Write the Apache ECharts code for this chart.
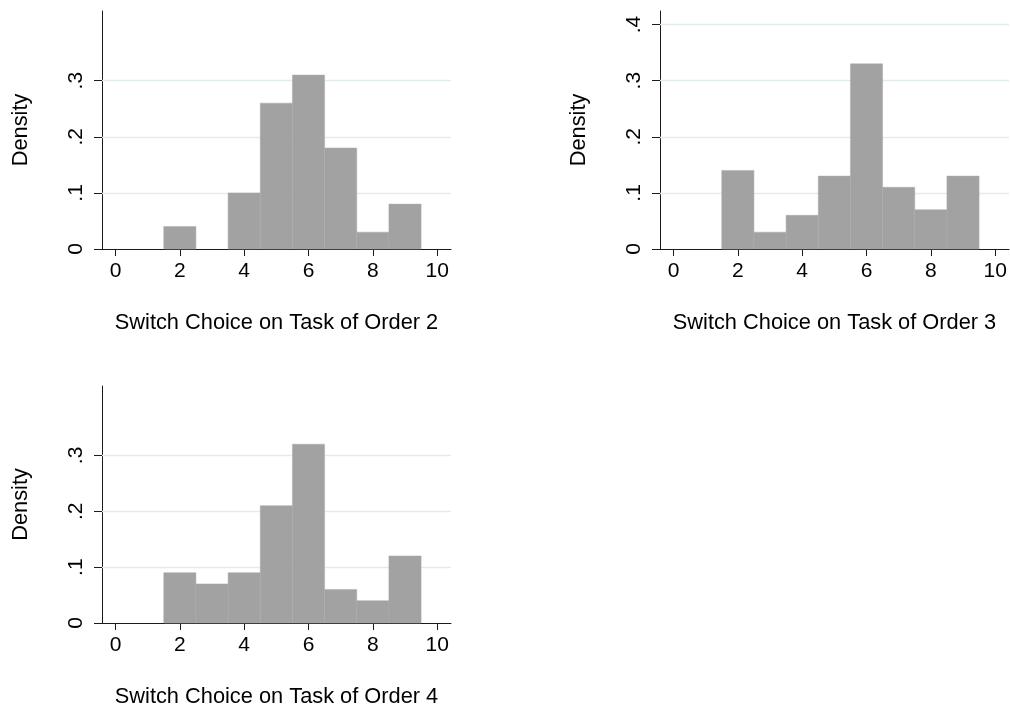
<!DOCTYPE html>
<html>
<head>
<meta charset="utf-8">
<script src="https://cdn.jsdelivr.net/npm/echarts@6/dist/echarts.min.js"></script>
<style>
html,body{margin:0;padding:0;background:#fff;}
#chart{width:1010px;height:709px;}
</style>
</head>
<body>
<div id="chart"></div>
<script>
const bins = [2, 3, 4, 5, 6, 7, 8, 9];
const order2 = [0.04, 0.00, 0.10, 0.26, 0.31, 0.18, 0.03, 0.08];
const order3 = [0.14, 0.03, 0.06, 0.13, 0.33, 0.11, 0.07, 0.13];
const order4 = [0.09, 0.07, 0.09, 0.21, 0.32, 0.06, 0.04, 0.12];
const xTicks = [0, 2, 4, 6, 8, 10];
const yTicksShort = [0, 0.1, 0.2, 0.3];
const yTicksLong = [0, 0.1, 0.2, 0.3, 0.4];
const titles = ['Switch Choice on Task of Order 2', 'Switch Choice on Task of Order 3', 'Switch Choice on Task of Order 4'];
const yTitle = 'Density';

const FONT = "'Liberation Sans', Arial, Helvetica, sans-serif";
const AX = '#1a1a1a';
const GRIDC = '#e2ecee';
const BARC = '#a2a2a2';

const panels = [
  {vals: order2, yt: yTicksShort, grid: {left: 102, top: 11, width: 349, height: 238}},
  {vals: order3, yt: yTicksLong,  grid: {left: 660, top: 11, width: 349, height: 238}},
  {vals: order4, yt: yTicksShort, grid: {left: 102, top: 386, width: 349, height: 238}}
];

function fmtY(v) {
  if (Math.abs(v) < 1e-9) return '0';
  return '.' + Math.round(v * 10);
}

const grids = [], xAxes = [], yAxes = [], series = [];
panels.forEach((p, i) => {
  grids.push(Object.assign({containLabel: false}, p.grid));
  xAxes.push({
    type: 'value', gridIndex: i, min: -0.42, max: 10.43,
    name: titles[i], nameLocation: 'middle', nameGap: 63,
    nameTextStyle: {fontFamily: FONT, fontSize: 21.8, color: '#000', verticalAlign: 'top'},
    axisLine: {show: true, onZero: false, lineStyle: {color: AX, width: 1}},
    axisTick: {show: true, length: 7, customValues: xTicks, lineStyle: {color: AX}},
    axisLabel: {show: true, customValues: xTicks, margin: 12, fontFamily: FONT, fontSize: 21, color: '#000'},
    splitLine: {show: false}
  });
  yAxes.push({
    type: 'value', gridIndex: i, min: 0, max: 0.4242,
    name: yTitle, nameLocation: 'middle', nameGap: 70, nameRotate: 90,
    nameTextStyle: {fontFamily: FONT, fontSize: 21.8, color: '#000'},
    axisLine: {show: true, onZero: false, lineStyle: {color: AX, width: 1}},
    axisTick: {show: true, length: 8, customValues: p.yt, lineStyle: {color: AX}},
    axisLabel: {show: true, customValues: p.yt, rotate: 90, margin: 15, fontFamily: FONT, fontSize: 21, color: '#000', formatter: fmtY},
    splitLine: {show: false}
  });
  series.push({
    type: 'line', xAxisIndex: i, yAxisIndex: i, data: [], z: 1, silent: true,
    markLine: {
      silent: true, symbol: ['none', 'none'], z: 1, animation: false,
      label: {show: false},
      lineStyle: {color: GRIDC, width: 1.3, type: 'solid'},
      data: p.yt.filter(v => v > 0).map(v => ({yAxis: v}))
    }
  });
  series.push({
    type: 'custom', xAxisIndex: i, yAxisIndex: i, z: 3, silent: true,
    data: bins.map((b, k) => [b, p.vals[k]]),
    renderItem: function (params, api) {
      const x = api.value(0), y = api.value(1);
      if (!(y > 0)) return null;
      const a = api.coord([x - 0.5, y]);
      const b = api.coord([x + 0.5, 0]);
      return {
        type: 'rect',
        shape: {x: a[0], y: a[1], width: b[0] - a[0], height: b[1] - a[1]},
        style: {fill: BARC, stroke: '#ababab', lineWidth: 0.5}
      };
    }
  });
});

const chart = echarts.init(document.getElementById('chart'), null, {renderer: 'canvas'});
chart.setOption({
  animation: false,
  backgroundColor: '#ffffff',
  grid: grids, xAxis: xAxes, yAxis: yAxes, series: series
});
</script>
</body>
</html>
